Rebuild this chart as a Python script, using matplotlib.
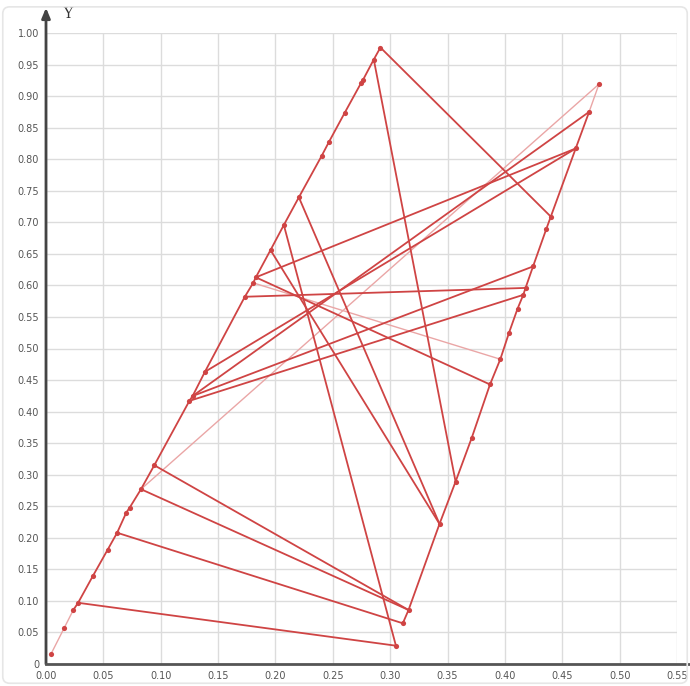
import matplotlib
matplotlib.use("Agg")
import matplotlib.pyplot as plt
from matplotlib.patches import FancyBboxPatch

# ---- data ----
left_x = [0.0044, 0.0157, 0.0238, 0.0280, 0.0407, 0.0537, 0.0620, 0.0700, 0.0730,
          0.0828, 0.0944, 0.1250, 0.1278, 0.1385, 0.1733, 0.1806, 0.1829, 0.1957,
          0.2073, 0.2204, 0.2402, 0.2468, 0.2605, 0.2744, 0.2764, 0.2857, 0.2915]
left_y = [0.016, 0.0565, 0.0856, 0.097, 0.139, 0.181, 0.208, 0.240, 0.248,
          0.277, 0.315, 0.417, 0.4247, 0.463, 0.582, 0.604, 0.6128, 0.656,
          0.6957, 0.7396, 0.805, 0.828, 0.874, 0.920, 0.926, 0.958, 0.977]

right_x = [0.305, 0.311, 0.316, 0.343, 0.357, 0.371, 0.387, 0.396, 0.4036,
           0.411, 0.416, 0.418, 0.4245, 0.436, 0.440, 0.4617, 0.4734, 0.482]
right_y = [0.029, 0.0645, 0.0856, 0.222, 0.289, 0.358, 0.443, 0.483, 0.525,
           0.563, 0.585, 0.596, 0.630, 0.689, 0.709, 0.817, 0.875, 0.919]

# chords: (index in left chain, index in right chain)
solid_chords = [(3, 0), (6, 1), (9, 2), (10, 2), (18, 0), (17, 3), (19, 3),
                (25, 4), (26, 14), (16, 6), (14, 11), (16, 15), (13, 15),
                (12, 16), (12, 12), (11, 10)]
faint_chords = [(15, 7), (9, 17)]

# faint parts of the chains (first points of the left chain, last of the right)
left_faint_upto = 2
right_faint_from = 16

x_ticks = [0.00, 0.05, 0.10, 0.15, 0.20, 0.25, 0.30, 0.35, 0.40, 0.45, 0.50, 0.55]
x_tick_labels = ["0.00", "0.05", "0.10", "0.15", "0.20", "0.25", "0.30", "0.35",
                 "0.40", "0.45", "0.50", "0.55"]
y_ticks = [0.00, 0.05, 0.10, 0.15, 0.20, 0.25, 0.30, 0.35, 0.40, 0.45, 0.50,
           0.55, 0.60, 0.65, 0.70, 0.75, 0.80, 0.85, 0.90, 0.95, 1.00]
y_tick_labels = ["0", "0.05", "0.10", "0.15", "0.20", "0.25", "0.30", "0.35",
                 "0.40", "0.45", "0.50", "0.55", "0.60", "0.65", "0.70", "0.75",
                 "0.80", "0.85", "0.90", "0.95", "1.00"]
axis_label = "Y"

# ---- styles ----
RED = "#cf4444"
FAINT = "#eaa6a6"
LW = 1.3

fig = plt.figure(figsize=(6.90, 6.86), dpi=100)
fig.patch.set_facecolor("white")
ax = fig.add_axes([46 / 690, 22 / 686, 631 / 690, 631 / 686])
ax.set_xlim(0, 0.55)
ax.set_ylim(0, 1.0)

for s in ax.spines.values():
    s.set_visible(False)

ax.set_xticks(x_ticks)
ax.set_xticklabels(x_tick_labels)
ax.set_yticks(y_ticks)
ax.set_yticklabels(y_tick_labels)
ax.tick_params(length=0, labelsize=7, labelcolor="#555555", pad=5)
ax.grid(True, color="#dcdcdc", linewidth=1.0)
ax.set_axisbelow(True)

# left chain
ax.plot(left_x[:left_faint_upto + 1], left_y[:left_faint_upto + 1],
        color=FAINT, lw=1.0, zorder=2)
ax.plot(left_x[left_faint_upto:], left_y[left_faint_upto:],
        color=RED, lw=LW, zorder=3)
# right chain
ax.plot(right_x[1:right_faint_from + 1], right_y[1:right_faint_from + 1],
        color=RED, lw=LW, zorder=3)
ax.plot(right_x[right_faint_from:], right_y[right_faint_from:],
        color=FAINT, lw=1.0, zorder=2)

for li, ri in solid_chords:
    ax.plot([left_x[li], right_x[ri]], [left_y[li], right_y[ri]],
            color=RED, lw=LW, zorder=3)
for li, ri in faint_chords:
    ax.plot([left_x[li], right_x[ri]], [left_y[li], right_y[ri]],
            color=FAINT, lw=1.0, zorder=2)

ax.scatter(left_x, left_y, s=14, color=RED, zorder=4, linewidths=0)
ax.scatter(right_x, right_y, s=14, color=RED, zorder=4, linewidths=0)

# axes lines with arrow
ax.annotate("", xy=(0, 1.04), xytext=(0, 0), xycoords="axes fraction",
            textcoords="axes fraction",
            arrowprops=dict(arrowstyle="-|>,head_length=0.6,head_width=0.25",
                            color="#444444", lw=2, shrinkA=0, shrinkB=0),
            annotation_clip=False)
ax.plot([0, 1.02], [0, 0], transform=ax.transAxes, color="#555555", lw=2,
        clip_on=False, zorder=5)
ax.text(0.028, 1.03, axis_label, transform=ax.transAxes, fontsize=10,
        family="DejaVu Serif", color="#333333", va="center", ha="left")

# subtle outer frame
frame = FancyBboxPatch((0.004, 0.004), 0.992, 0.986, boxstyle="round,pad=0,rounding_size=0.01",
                       transform=fig.transFigure, facecolor="none",
                       edgecolor="#e6e6e6", lw=1.2)
fig.patches.append(frame)

fig.savefig("out.png", dpi=100)
